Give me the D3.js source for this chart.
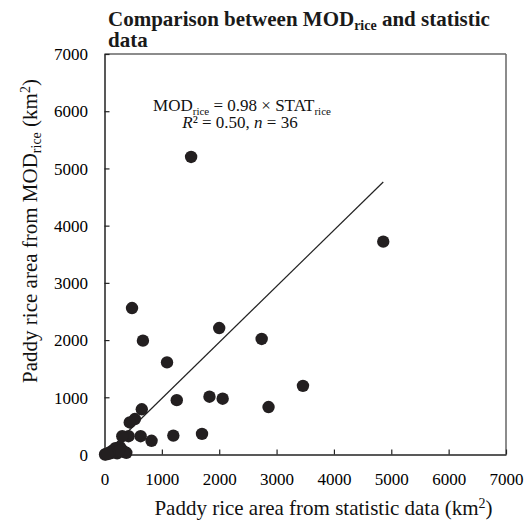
<!DOCTYPE html>
<html>
<head>
<meta charset="utf-8">
<script src="https://cdn.jsdelivr.net/npm/d3@7/dist/d3.min.js"></script>
<style>
  html, body { margin: 0; padding: 0; background: #fff; }
  svg { display: block; font-family: "Liberation Serif", "Times New Roman", serif; }
</style>
</head>
<body>
<svg id="chart" width="525" height="524"></svg>
<script>
// ---- data ----
const xTicks = [0, 1000, 2000, 3000, 4000, 5000, 6000, 7000];
const yTicks = [0, 1000, 2000, 3000, 4000, 5000, 6000, 7000];
const statRice = [1510, 4860, 480, 2000, 2740, 670, 1090, 3460, 2060, 1830, 1260, 2860,
                  650, 530, 440, 1700, 1200, 820, 630, 420, 310,
                  10, 60, 100, 130, 190, 270, 340, 220, 300, 20, 160, 380, 250, 80, 50];
const modRice  = [5200, 3720, 2560, 2210, 2020, 1990, 1610, 1200, 975, 1010, 950, 830,
                  790, 620, 560, 360, 330, 240, 320, 320, 320,
                  0, 10, 20, 60, 110, 130, 50, 20, 80, 5, 40, 30, 60, 30, 15];
const fitSlope = 0.98;
const titleLine1 = ["Comparison between MOD", "rice", " and statistic"];
const titleLine2 = "data";

// ---- layout ----
const svg = d3.select("#chart");
const x = d3.scaleLinear().domain([0, 7000]).range([104.5, 506]);
const y = d3.scaleLinear().domain([0, 7000]).range([454.5, 54]);

// frame (top & right)
svg.append("line").attr("x1", x(0)).attr("x2", x(7000)).attr("y1", y(7000)).attr("y2", y(7000))
  .attr("stroke", "#666").attr("stroke-width", 1.5);
svg.append("line").attr("x1", x(7000)).attr("x2", x(7000)).attr("y1", y(7000)).attr("y2", y(0))
  .attr("stroke", "#666").attr("stroke-width", 1.5);

// axes
const gx = svg.append("g").attr("transform", `translate(0,${y(0)})`)
  .call(d3.axisBottom(x).tickValues(xTicks).tickSizeInner(-5).tickSizeOuter(0).tickFormat(d3.format("d")));
gx.selectAll("text").attr("y", 30.5).attr("dy", 0).attr("font-size", 17).attr("fill", "#000")
  .attr("font-family", "Liberation Serif");
const gy = svg.append("g").attr("transform", `translate(${x(0)},0)`)
  .call(d3.axisLeft(y).tickValues(yTicks).tickSizeInner(-5).tickSizeOuter(0).tickFormat(d3.format("d")));
gy.selectAll("text").attr("x", -16.5).attr("dy", "0.34em").attr("font-size", 17).attr("fill", "#000")
  .attr("font-family", "Liberation Serif");
[gx, gy].forEach(g => {
  g.select(".domain").attr("stroke", "#222").attr("stroke-width", 1.5);
  g.selectAll(".tick line").attr("stroke", "#222").attr("stroke-width", 1.2);
});

// regression line
const xMax = d3.max(statRice);
svg.append("line")
  .attr("x1", x(0)).attr("y1", y(0))
  .attr("x2", x(xMax)).attr("y2", y(fitSlope * xMax))
  .attr("stroke", "#222").attr("stroke-width", 1.2);

// points
svg.append("g").selectAll("circle").data(statRice.map((v, i) => [v, modRice[i]]))
  .join("circle")
  .attr("cx", d => x(d[0])).attr("cy", d => y(d[1])).attr("r", 6.2)
  .attr("fill", "#231f20");

// title
const t1 = svg.append("text").attr("x", 108).attr("y", 26).attr("font-size", 21)
  .attr("font-weight", "bold").attr("fill", "#1a1a1a");
t1.append("tspan").text(titleLine1[0]);
t1.append("tspan").attr("font-size", 14).attr("dy", 4).text(titleLine1[1]);
t1.append("tspan").attr("dy", -4).text(titleLine1[2]);
svg.append("text").attr("x", 108).attr("y", 47).attr("font-size", 21)
  .attr("font-weight", "bold").attr("fill", "#1a1a1a").text(titleLine2);

// annotation
const a1 = svg.append("text").attr("x", 242).attr("y", 111).attr("font-size", 17)
  .attr("text-anchor", "middle").attr("fill", "#111");
a1.append("tspan").text("MOD");
a1.append("tspan").attr("font-size", 11).attr("dy", 4).text("rice");
a1.append("tspan").attr("dy", -4).text(" = 0.98 × STAT");
a1.append("tspan").attr("font-size", 11).attr("dy", 4).text("rice");
const a2 = svg.append("text").attr("x", 240).attr("y", 128).attr("font-size", 17)
  .attr("text-anchor", "middle").attr("fill", "#111");
a2.append("tspan").attr("font-style", "italic").text("R");
a2.append("tspan").text("² = 0.50, ");
a2.append("tspan").attr("font-style", "italic").text("n");
a2.append("tspan").text(" = 36");

// axis titles
const xt = svg.append("text").attr("x", 323.5).attr("y", 515).attr("font-size", 21)
  .attr("text-anchor", "middle").attr("fill", "#111");
xt.append("tspan").text("Paddy rice area from statistic data (km");
xt.append("tspan").attr("font-size", 14).attr("dy", -7).text("2");
xt.append("tspan").attr("dy", 7).text(")");

const yt = svg.append("text").attr("transform", `translate(37,231) rotate(-90)`)
  .attr("font-size", 21).attr("text-anchor", "middle").attr("fill", "#111");
yt.append("tspan").text("Paddy rice area from MOD");
yt.append("tspan").attr("font-size", 14).attr("dy", 4).text("rice");
yt.append("tspan").attr("dy", -4).text(" (km");
yt.append("tspan").attr("font-size", 14).attr("dy", -7).text("2");
yt.append("tspan").attr("dy", 7).text(")");
</script>
</body>
</html>
